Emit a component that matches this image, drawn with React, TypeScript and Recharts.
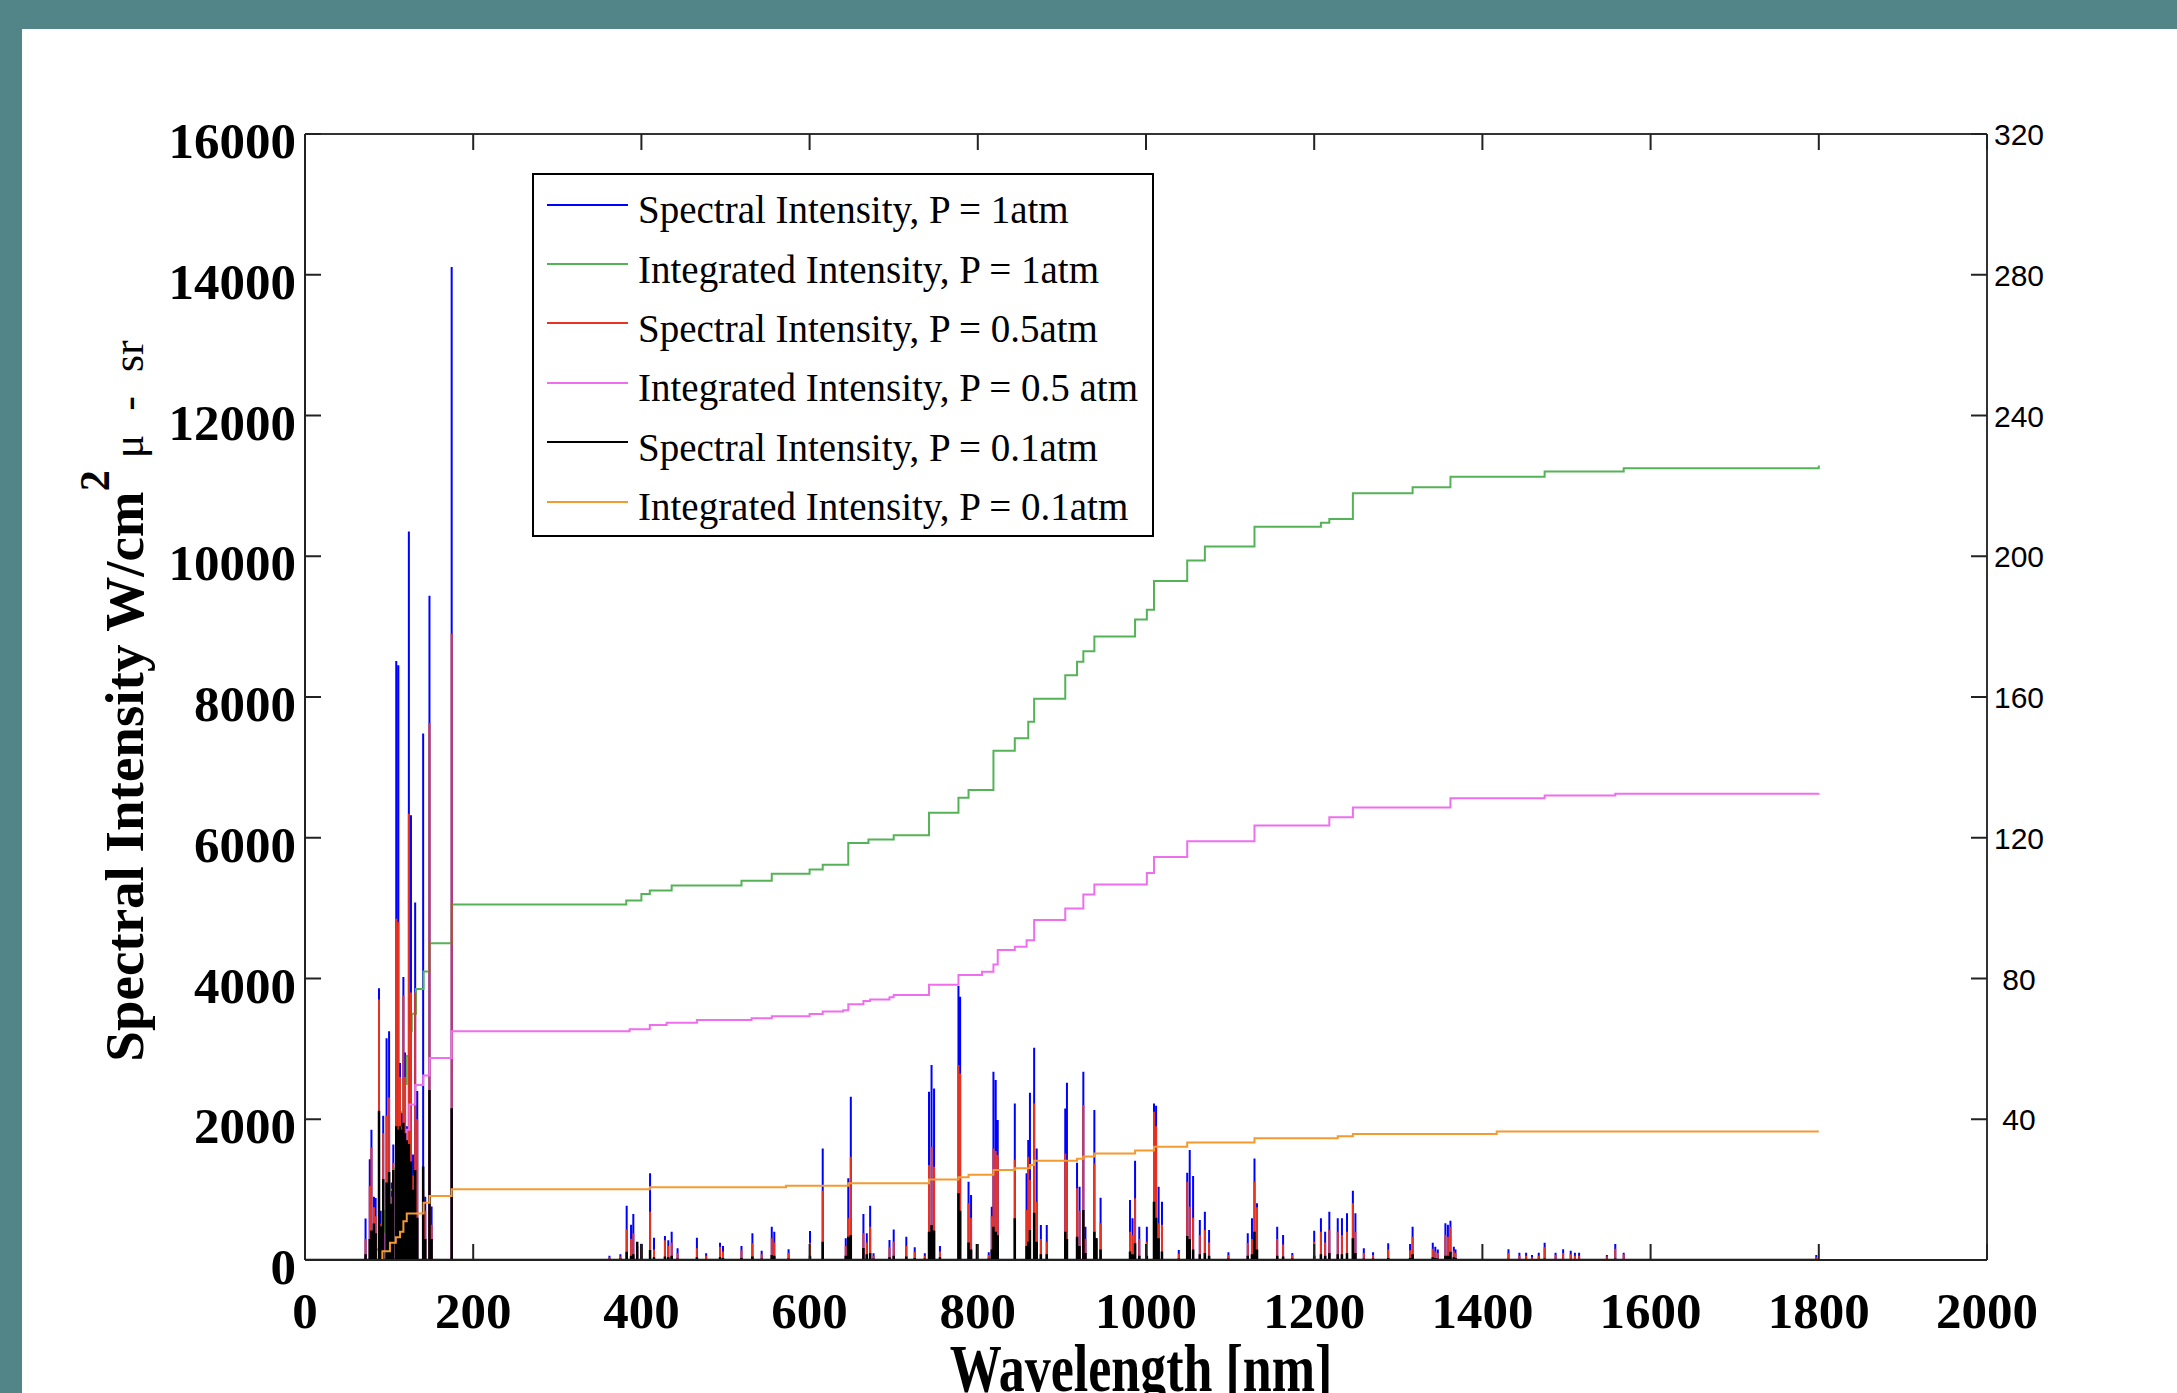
import React from 'react';
import { ComposedChart, Line, XAxis, YAxis, ReferenceLine, Legend } from 'recharts';

// spectral lines: wavelength [nm] and peak intensity at each pressure
const lineNm = [
  72, 77, 79, 82, 84, 88, 90, 93, 97, 100, 103, 105, 108.5, 111, 113, 115, 117, 119, 121, 123.5,
  126, 128.5, 131, 133.5, 140.5, 143, 148, 150.5, 174.4,
  362, 375, 382.5, 387.7, 390.4, 395, 400, 410.3, 415, 428, 432, 436, 443, 466, 477, 493.5, 497,
  519, 532, 543, 555, 558, 575, 600.5, 615.6, 643, 646, 649, 664, 668, 672, 676, 695, 700, 715,
  725, 737, 742, 745, 748, 755, 777, 779, 789, 792, 799, 813, 816.6, 818.6, 821.3, 823.7, 844,
  858, 860, 862, 867, 870, 875, 882, 904, 906, 918, 921, 925.5, 928, 938.6, 941, 946, 981, 984,
  987, 992, 1001, 1009.5, 1012, 1015, 1019, 1039, 1049, 1052, 1056, 1064, 1070, 1075, 1098, 1121,
  1126, 1129, 1132, 1156, 1163, 1174, 1200, 1208, 1213, 1218, 1228, 1233, 1239, 1246, 1249, 1259,
  1270, 1288, 1314, 1317, 1341, 1344, 1347, 1356, 1359, 1362, 1366, 1368, 1431, 1444, 1452, 1459,
  1467, 1474, 1487, 1496, 1505, 1510, 1515, 1548, 1558, 1568, 1797,
];
const peak1atm = [
  590, 1430, 1850, 900, 880, 3860, 700, 2050, 3150, 3250, 1100, 1640, 8510, 8450, 2800, 2100, 4020, 2950, 1900, 10350,
  6320, 1500, 5080, 2400, 7480, 900, 9440, 760, 14110,
  60, 80, 770, 500, 653, 200, 230, 1231, 317, 341, 280, 402, 166, 317, 95, 246, 200,
  199, 379, 130, 473, 402, 151, 412, 1586, 308, 1160, 2320, 653, 380, 771, 95, 284, 435, 331,
  180, 95, 2391, 2770, 2438, 199, 3892, 3740, 1112, 923, 150, 110, 757, 2675, 2556, 1988, 2225,
  1231, 1704, 2376, 3016, 1586, 497, 497, 2154, 2518, 1382, 1041, 2675, 473, 2130, 308, 885, 852, 592,
  1410, 473, 473, 2225, 2192, 1041, 828, 142, 1240, 1562, 1193, 568, 686, 426, 110, 379,
  592, 1444, 805, 473, 355, 100, 416, 592, 402, 686, 592, 592, 663, 985, 663, 166,
  110, 237, 227, 473, 246, 190, 150, 521, 500, 559, 190, 150, 152, 104, 104, 71,
  104, 246, 104, 152, 130, 104, 104, 71, 227, 104, 71,
];
const peak05atm = [
  300, 1050, 1600, 750, 620, 3700, 520, 1800, 2050, 2310, 900, 1380, 4850, 4800, 2600, 1900, 3760, 2600, 1600, 6340,
  3800, 1200, 3800, 2000, 1000, 700, 7630, 500, 8900,
  40, 50, 435, 300, 378, 150, 160, 686, 150, 280, 200, 246, 100, 166, 60, 190, 120,
  140, 237, 80, 308, 250, 100, 246, 985, 200, 592, 1467, 379, 250, 473, 60, 180, 260, 200,
  118, 60, 1349, 1610, 1325, 120, 2770, 2651, 805, 600, 100, 70, 620, 1586, 1550, 1491, 1425,
  710, 1467, 1136, 2225, 828, 300, 260, 1515, 1400, 1018, 700, 2201, 300, 1373, 250, 521, 402, 350,
  876, 300, 260, 2106, 1900, 521, 500, 90, 1112, 757, 600, 350, 426, 250, 70, 240,
  300, 1112, 750, 300, 220, 70, 260, 402, 250, 426, 402, 350, 402, 805, 400, 100,
  70, 150, 140, 332, 160, 120, 100, 355, 330, 474, 130, 100, 100, 60, 60, 40,
  60, 180, 70, 100, 80, 60, 60, 50, 160, 80, 40,
];
const peak01atm = [
  80, 300, 420, 520, 380, 2120, 480, 1150, 1100, 1250, 800, 1280, 1900, 1850, 1900, 1850, 1950, 1800, 1700, 1650,
  1400, 1000, 1280, 600, 1330, 300, 2415, 300, 2157,
  10, 20, 118, 60, 80, 260, 227, 142, 40, 50, 40, 60, 20, 40, 10, 40, 30,
  30, 50, 20, 70, 60, 20, 60, 260, 60, 331, 355, 170, 80, 100, 20, 40, 60, 50,
  30, 20, 402, 497, 420, 40, 947, 700, 250, 150, 227, 20, 150, 473, 400, 350, 592,
  200, 260, 426, 672, 260, 80, 80, 402, 300, 331, 200, 710, 100, 402, 308, 150, 120, 80,
  237, 60, 60, 828, 600, 308, 120, 20, 341, 300, 150, 80, 100, 60, 20, 60,
  80, 402, 150, 60, 50, 20, 60, 80, 60, 100, 80, 80, 100, 308, 100, 20,
  20, 30, 30, 80, 40, 30, 20, 60, 60, 118, 40, 30, 10, 10, 10, 10,
  10, 20, 10, 10, 10, 10, 10, 5, 20, 10, 10,
];

// integrated intensity (right axis), value reached at each wavelength
const int1atmNm = [0, 70, 80, 88, 95, 100, 105, 109, 112, 117, 121, 124, 127, 132, 141, 148, 174.4, 382, 400, 410, 436, 519, 555, 600, 615.6, 646, 670, 700, 742, 777, 789, 818.6, 844, 860, 867, 904, 918, 925.5, 938.6, 987, 1001, 1009.5, 1049, 1070, 1129, 1208, 1218, 1246, 1317, 1362, 1474, 1568, 1800];
const int1atm = [0, 0, 3, 8, 14, 20, 26, 34, 42, 50, 58, 65, 70, 77, 82, 90, 101, 102.2, 104, 105, 106.4, 107.8, 109.8, 111, 112.3, 118.5, 119.5, 120.7, 127.1, 131.4, 133.6, 144.7, 148.3, 153, 159.5, 166.2, 170, 173, 177.2, 182, 184.8, 193, 198.8, 202.8, 208.4, 209.5, 210.6, 217.9, 219.6, 222.6, 224.1, 225, 225.8];
const int05atmNm = [0, 80, 88, 95, 100, 108, 112, 117, 121, 124, 131, 140.5, 148, 174.4, 386, 410, 430, 466, 531, 555, 600, 615.6, 640, 646, 664, 672, 695, 700, 742, 777, 805, 818.6, 823.7, 844, 858, 867, 904, 925.5, 938.6, 1001, 1009.5, 1049, 1129, 1218, 1246, 1362, 1474, 1558, 1800];
const int05atm = [0, 0, 3, 7, 13, 18, 23.6, 30, 37, 44.2, 49.7, 52.4, 57.4, 65, 65.6, 66.8, 67.4, 68.2, 68.7, 69.3, 69.9, 70.6, 71, 72.7, 73.6, 74, 74.7, 75.3, 78.2, 81, 81.9, 84, 88.1, 89, 90.9, 96.6, 99.9, 103.9, 106.7, 110, 114.5, 119, 123.5, 125.8, 128.6, 131.2, 132, 132.5, 132.6];
const int01atmNm = [0, 85, 92, 101, 108, 113, 117, 121, 141, 148, 174.4, 410, 572, 646, 742, 777, 789, 818.6, 844, 862, 867, 918, 925.5, 938.6, 987, 1009.5, 1049, 1129, 1228, 1246, 1417, 1800];
const int01atm = [0, 0, 2.5, 4.9, 6.5, 8, 11, 13.2, 16.3, 18.2, 20.1, 20.7, 21.1, 21.8, 22.9, 23.5, 24.2, 25.6, 26.1, 27, 28.2, 28.8, 29.4, 30.3, 31.1, 32.2, 33.4, 34.6, 35.2, 35.8, 36.5, 36.5];

const xTicks = [0, 200, 400, 600, 800, 1000, 1200, 1400, 1600, 1800, 2000];
const leftTicks = [0, 2000, 4000, 6000, 8000, 10000, 12000, 14000, 16000];
const rightTicks = [40, 80, 120, 160, 200, 240, 280, 320];

const seriesNames = [
  'Spectral Intensity, P = 1atm',
  'Integrated Intensity, P = 1atm',
  'Spectral Intensity, P = 0.5atm',
  'Integrated Intensity, P = 0.5 atm',
  'Spectral Intensity, P = 0.1atm',
  'Integrated Intensity, P = 0.1atm',
];

const TEAL = '#528587';
const SERIF = "'Liberation Serif', 'Times New Roman', serif";
const SANS = "'Liberation Sans', Arial, sans-serif";
const PLOT_TOP = 134;
const TICK = 16;

// a line spectrum: baseline, then up and down at each line
const spectrum = (peaks: number[]) => {
  const pts = [{ nm: 0, v: 0 }];
  lineNm.forEach((nm, i) => {
    pts.push({ nm, v: 0 }, { nm, v: peaks[i] }, { nm, v: 0 });
  });
  pts.push({ nm: 1800, v: 0 });
  return pts;
};
const steps = (nm: number[], vals: number[]) => nm.map((x, i) => ({ nm: x, v: vals[i] }));

const XTick = (props: any) => {
  const { x, y, payload } = props;
  return (
    <g>
      <line x1={x} x2={x} y1={y} y2={y - TICK} stroke="#222" strokeWidth={2} />
      <line x1={x} x2={x} y1={PLOT_TOP} y2={PLOT_TOP + TICK} stroke="#222" strokeWidth={2} />
      <text x={x} y={y + 68} textAnchor="middle" fontFamily={SERIF} fontWeight={700} fontSize={51} fill="#000">
        {payload.value}
      </text>
    </g>
  );
};

const LeftTick = (props: any) => {
  const { x, y, payload } = props;
  return (
    <g>
      <line x1={x} x2={x + TICK} y1={y} y2={y} stroke="#222" strokeWidth={2} />
      <text x={x - 9} y={y + 24} textAnchor="end" fontFamily={SERIF} fontWeight={700} fontSize={51} fill="#000">
        {payload.value}
      </text>
    </g>
  );
};

const RightTick = (props: any) => {
  const { x, y, payload } = props;
  return (
    <g>
      <line x1={x - TICK} x2={x} y1={y} y2={y} stroke="#222" strokeWidth={2} />
      <text x={x + 32} y={y + 11} textAnchor="middle" fontFamily={SANS} fontSize={30} fill="#000">
        {payload.value}
      </text>
    </g>
  );
};

const XTitle = () => (
  <text
    transform="translate(1141, 1391) scale(1, 1.3)"
    textAnchor="middle"
    fontFamily={SERIF}
    fontWeight={700}
    fontSize={52}
    fill="#000"
  >
    Wavelength [nm]
  </text>
);

const YTitle = () => {
  const cx = 143;
  const cy = 701;
  return (
    <text x={cx} y={cy} transform={`rotate(-90, ${cx}, ${cy})`} textAnchor="middle" fontFamily={SERIF} fill="#000">
      <tspan fontWeight={700} fontSize={55}>Spectral Intensity W/cm</tspan>
      <tspan fontWeight={700} fontSize={42} dy={-34}>2</tspan>
      <tspan fontWeight={400} fontSize={44} dy={34} dx={12}>μ</tspan>
      <tspan fontWeight={400} fontSize={44} dx={24}>-</tspan>
      <tspan fontWeight={400} fontSize={44} dx={24}>sr</tspan>
    </text>
  );
};

const LegendBox = (props: any) => {
  const entries = [...(props.payload || [])].sort(
    (a: any, b: any) => seriesNames.indexOf(a.value) - seriesNames.indexOf(b.value),
  );
  return (
    <div
      style={{
        width: 622,
        height: 364,
        boxSizing: 'border-box',
        border: '2px solid #000',
        background: '#fff',
      }}
    >
      {entries.map((entry: any) => (
        <div key={entry.value} style={{ display: 'flex', alignItems: 'center', height: 59.4 }}>
          <div style={{ marginLeft: 13, width: 81, borderTop: `2px solid ${entry.color}` }} />
          <span
            style={{
              marginLeft: 10,
              fontFamily: SERIF,
              fontSize: 39,
              lineHeight: 1,
              whiteSpace: 'nowrap',
              position: 'relative',
              top: 5,
              color: '#000',
            }}
          >
            {entry.value}
          </span>
        </div>
      ))}
    </div>
  );
};

export default function App() {
  return (
    <div style={{ position: 'absolute', left: 0, top: 0, width: 2177, height: 1393, background: '#fff', overflow: 'hidden' }}>
      <div style={{ position: 'absolute', left: 0, top: 0, width: 2177, height: 29, background: TEAL }} />
      <div style={{ position: 'absolute', left: 0, top: 0, width: 22, height: 1393, background: TEAL }} />
      <div style={{ position: 'absolute', left: 0, top: 0 }}>
        <ComposedChart width={2177} height={1393} margin={{ top: 134, right: 40, bottom: 33, left: 105 }}>
          <XAxis
            type="number"
            dataKey="nm"
            domain={[0, 2000]}
            ticks={xTicks}
            interval={0}
            height={100}
            tickSize={0}
            tickMargin={0}
            tickLine={false}
            axisLine={{ stroke: '#222', strokeWidth: 2 }}
            tick={(p: any) => <XTick {...p} />}
            label={<XTitle />}
            allowDataOverflow
          />
          <YAxis
            yAxisId="left"
            type="number"
            domain={[0, 16000]}
            ticks={leftTicks}
            interval={0}
            width={200}
            tickSize={0}
            tickMargin={0}
            tickLine={false}
            axisLine={{ stroke: '#222', strokeWidth: 2 }}
            tick={(p: any) => <LeftTick {...p} />}
            label={<YTitle />}
            allowDataOverflow
          />
          <YAxis
            yAxisId="right"
            orientation="right"
            type="number"
            domain={[0, 320]}
            ticks={rightTicks}
            interval={0}
            width={150}
            tickSize={0}
            tickMargin={0}
            tickLine={false}
            axisLine={{ stroke: '#333', strokeWidth: 2 }}
            tick={(p: any) => <RightTick {...p} />}
            allowDataOverflow
          />
          <Legend
            layout="vertical"
            align="center"
            verticalAlign="middle"
            content={(p: any) => <LegendBox {...p} />}
            wrapperStyle={{ left: 532, top: 173, width: 622, height: 364 }}
          />
          <Line
            yAxisId="left"
            name={seriesNames[0]}
            data={spectrum(peak1atm)}
            dataKey="v"
            type="linear"
            stroke="#0000ff"
            strokeWidth={2}
            dot={false}
            activeDot={false}
            isAnimationActive={false}
          />
          <Line
            yAxisId="right"
            name={seriesNames[1]}
            data={steps(int1atmNm, int1atm)}
            dataKey="v"
            type="stepAfter"
            stroke="#55b357"
            strokeWidth={2}
            dot={false}
            activeDot={false}
            isAnimationActive={false}
          />
          <Line
            yAxisId="left"
            name={seriesNames[2]}
            data={spectrum(peak05atm)}
            dataKey="v"
            type="linear"
            stroke="#e63323"
            strokeWidth={2}
            dot={false}
            activeDot={false}
            isAnimationActive={false}
          />
          <Line
            yAxisId="right"
            name={seriesNames[3]}
            data={steps(int05atmNm, int05atm)}
            dataKey="v"
            type="stepAfter"
            stroke="#ee6eee"
            strokeWidth={2}
            dot={false}
            activeDot={false}
            isAnimationActive={false}
          />
          <Line
            yAxisId="left"
            name={seriesNames[4]}
            data={spectrum(peak01atm)}
            dataKey="v"
            type="linear"
            stroke="#000000"
            strokeWidth={2.5}
            dot={false}
            activeDot={false}
            isAnimationActive={false}
          />
          <Line
            yAxisId="right"
            name={seriesNames[5]}
            data={steps(int01atmNm, int01atm)}
            dataKey="v"
            type="stepAfter"
            stroke="#f39a30"
            strokeWidth={2}
            dot={false}
            activeDot={false}
            isAnimationActive={false}
          />
          <ReferenceLine yAxisId="left" y={16000} stroke="#333" strokeWidth={2} />
        </ComposedChart>
      </div>
    </div>
  );
}
